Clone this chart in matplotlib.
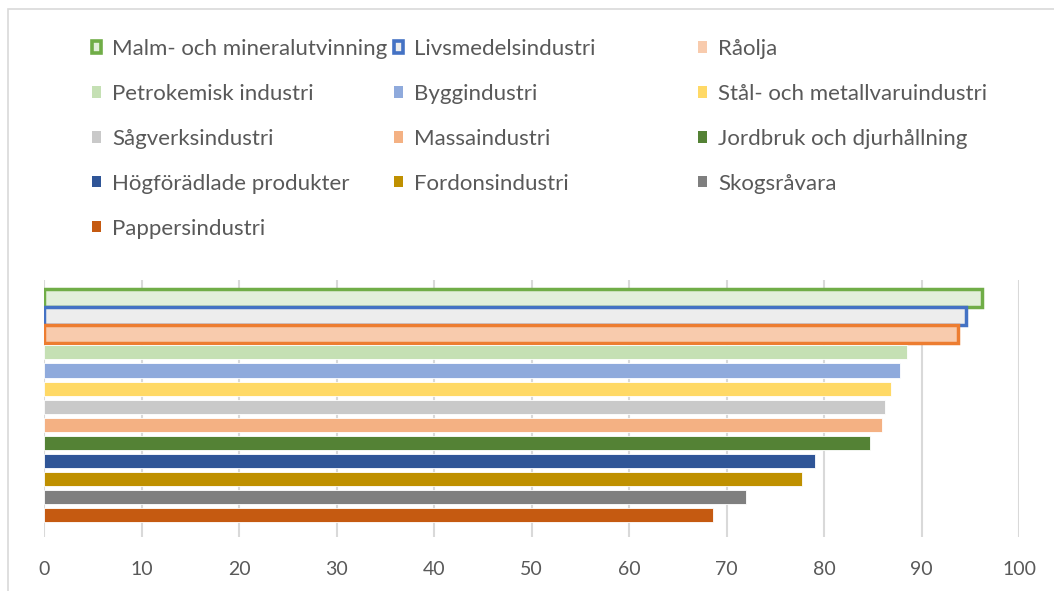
import matplotlib.pyplot as plt
from matplotlib.patches import Patch, Rectangle

plt.rcParams['font.family'] = ['Lato', 'DejaVu Sans']

# Categories and values, top to bottom
categories = ["Malm- och mineralutvinning", "Livsmedelsindustri", "Råolja",
              "Petrokemisk industri", "Byggindustri", "Stål- och metallvaruindustri",
              "Sågverksindustri", "Massaindustri", "Jordbruk och djurhållning",
              "Högförädlade produkter", "Fordonsindustri", "Skogsråvara",
              "Pappersindustri"]
values = [96.2, 94.6, 93.7, 88.5, 87.8, 86.9, 86.3, 85.9, 84.7, 79.1, 77.7, 72.0, 68.6]

fills = ["#E2EFDA", "#EDEDED", "#F8CBAD", "#C5E0B4", "#8FAADC", "#FFD966",
         "#C9C9C9", "#F4B183", "#548235", "#2F5597", "#BF9000", "#7F7F7F", "#C55A11"]
edges = ["#70AD47", "#4472C4", "#ED7D31"] + [None] * 10
legend_edges = ["#70AD47", "#4472C4"] + [None] * 11

text_col = "#595959"
grid_col = "#D9D9D9"

fig = plt.figure(figsize=(10.54, 5.91), dpi=100)
W, H = 1054, 591

# outer chart border
fig.patches.append(Rectangle((8 / W, -0.1), 1.2, 1 - 9 / H + 0.1, transform=fig.transFigure,
                             fill=False, edgecolor=grid_col, lw=1.2))

ax = fig.add_axes([44 / W, 1 - 537 / H, (1019 - 44) / W, (537 - 280) / H])
ypos = list(range(len(categories)))
for y, v, fc, ec in zip(ypos, values, fills, edges):
    if ec:
        ax.barh(y, v, height=1.0, color=fc, edgecolor=ec, linewidth=2.5, zorder=3)
    else:
        ax.barh(y, v, height=0.78, color=fc, edgecolor='white', linewidth=0.6, zorder=3)

ax.set_xlim(0, 100)
ax.set_ylim(13.2, -1)
ax.set_xticks(range(0, 101, 10))
ax.set_yticks([])
ax.grid(axis='x', color=grid_col, lw=1.5, zorder=0)
for s in ax.spines.values():
    s.set_visible(False)
ax.tick_params(axis='x', length=0, labelsize=14, labelcolor=text_col, pad=17)

# legend: three columns, filled row by row
col_x = [92, 394, 698]
for c in range(3):
    handles = []
    for i in range(c, len(categories), 3):
        if legend_edges[i]:
            handles.append(Patch(facecolor=fills[i], edgecolor=legend_edges[i], lw=2.6,
                                 label=categories[i]))
        else:
            handles.append(Patch(facecolor=fills[i], edgecolor='none', label=categories[i]))
    fig.legend(handles=handles, loc='upper left', bbox_to_anchor=(col_x[c] / W, 1 - 39 / H),
               frameon=False, fontsize=16, labelcolor=text_col, handlelength=0.42,
               handleheight=0.42, handletextpad=0.5, labelspacing=1.12,
               borderpad=0, borderaxespad=0)

fig.savefig("out.png", dpi=100)
